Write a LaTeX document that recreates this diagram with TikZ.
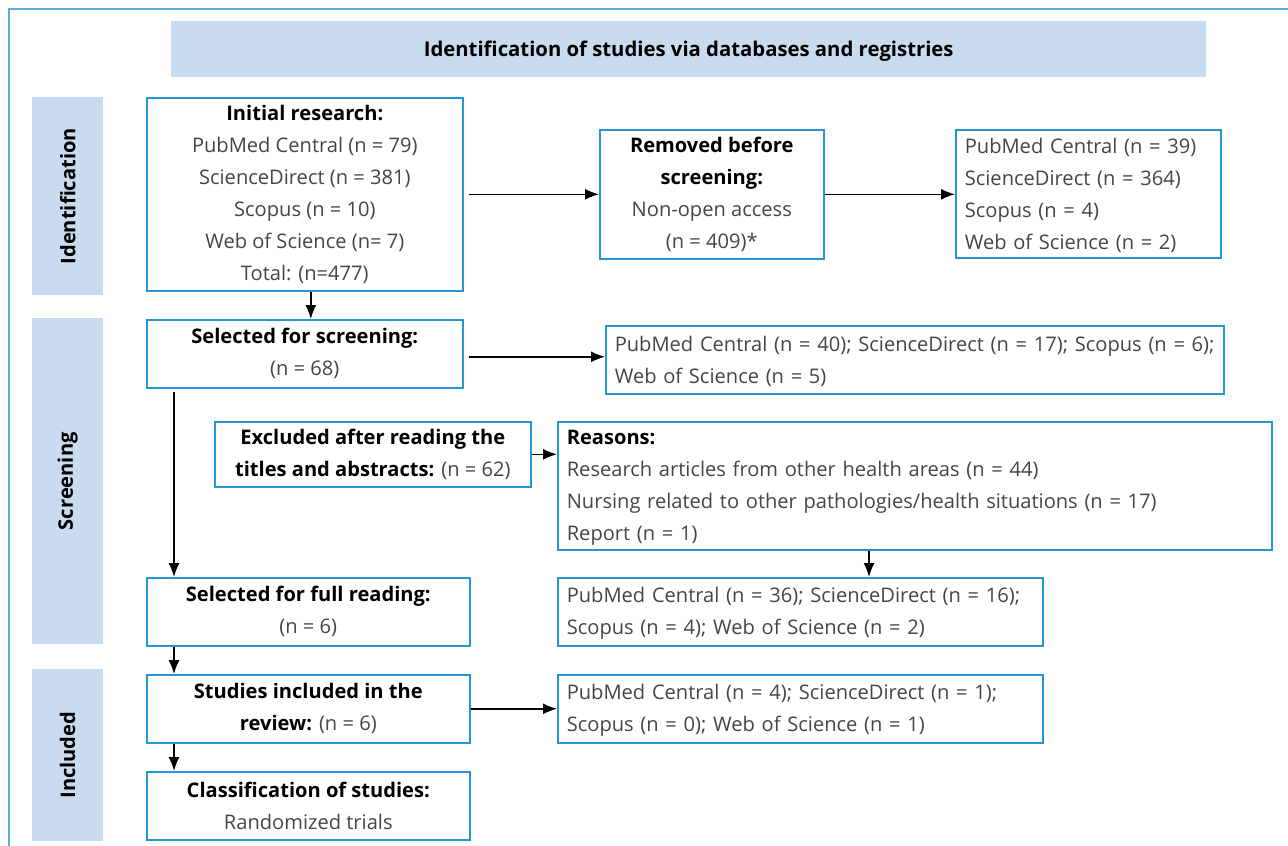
\documentclass[tikz,border=0pt]{standalone}
\usepackage{fontspec}
\setmainfont{Open Sans}
\usetikzlibrary{arrows.meta}
\definecolor{bxblue}{HTML}{2396D3}
\definecolor{barblue}{HTML}{C9DBEE}
\definecolor{frameblue}{HTML}{5AAEDD}
\definecolor{txtgray}{HTML}{454545}
\newcommand{\hb}[1]{\textbf{\color{black}#1}}
\tikzset{
  box/.style={draw=bxblue, line width=1.6pt, fill=white, inner sep=0pt, anchor=north west,
    align=center, text=txtgray, font=\fontsize{20.1}{32}\selectfont,
    execute at begin node={\rule{0pt}{19pt}}},
  lbox/.style={box, align=left, inner xsep=9pt},
  bar/.style={fill=barblue, draw=none, anchor=north west, inner sep=0pt},
  barlabel/.style={rotate=90, font=\fontsize{20.1}{24}\selectfont\bfseries, text=black},
  arr/.style={-{Latex[length=14pt,width=11pt]}, line width=1.5pt, black},
}
\begin{document}
\begin{tikzpicture}[x=1pt,y=-1pt]
\useasboundingbox (0,0) rectangle (1288,846);
\draw[frameblue, line width=1.4pt] (9,846) -- (9,9) -- (1288,9);
% header
\node[bar, minimum width=1035, minimum height=56, font=\fontsize{20.3}{24}\selectfont\bfseries, text=black] (hdr) at (171,21) {\rule{0pt}{19pt}Identification of studies via databases and registries};
% side bars
\node[bar, minimum width=71, minimum height=198] (barid) at (32,97) {};
\node[barlabel] (lblid) at (barid.center) {Identification};
\node[bar, minimum width=71, minimum height=326] (barscr) at (32,318) {};
\node[barlabel] (lblscr) at (barscr.center) {Screening};
\node[bar, minimum width=71, minimum height=172] (barinc) at (32,669) {};
\node[barlabel] (lblinc) at (barinc.center) {Included};
% boxes
\node[box, minimum width=316, minimum height=193, execute at begin node={\rule{0pt}{24pt}}] (init) at (146,97)
  {\hb{Initial research:}\\PubMed Central (n = 79)\\ScienceDirect (n = 381)\\Scopus (n = 10)\\Web of Science (n= 7)\\Total: (n=477)};
\node[box, minimum width=224, minimum height=129] (rem) at (599,129)
  {\hb{Removed before}\\\hb{screening:}\\Non-open access\\(n = 409)*};
\node[lbox, text width=247, minimum height=128, execute at begin node={\rule{0pt}{17pt}}] (remlist) at (955,129)
  {PubMed Central (n = 39)\\ScienceDirect (n = 364)\\Scopus (n = 4)\\Web of Science (n = 2)};
\node[box, minimum width=316, minimum height=68] (scr) at (146,319)
  {\hb{Selected for screening:}\\(n = 68)};
\node[lbox, text width=600, minimum height=68, execute at begin node={\rule{0pt}{16pt}}] (scrlist) at (605,325)
  {\mbox{PubMed Central (n = 40); ScienceDirect (n = 17); Scopus (n = 6);}\\Web of Science (n = 5)};
\node[box, minimum width=316, minimum height=65] (excl) at (214,421)
  {\hb{Excluded after reading the}\\\hb{titles and abstracts:} (n = 62)};
\node[lbox, text width=696, minimum height=128] (reasons) at (557,421)
  {\hb{Reasons:}\\Research articles from other health areas (n = 44)\\Nursing related to other pathologies/health situations (n = 17)\\Report (n = 1)};
\node[box, minimum width=323, minimum height=68] (full) at (146,577)
  {\hb{Selected for full reading:}\\(n = 6)};
\node[lbox, text width=467, minimum height=68] (fulllist) at (557,577)
  {PubMed Central (n = 36); ScienceDirect (n = 16);\\Scopus (n = 4); Web of Science (n = 2)};
\node[box, minimum width=323, minimum height=68] (incl) at (146,674)
  {\hb{Studies included in the}\\\hb{review:} (n = 6)};
\node[lbox, text width=467, minimum height=68] (incllist) at (557,674)
  {PubMed Central (n = 4); ScienceDirect (n = 1);\\Scopus (n = 0); Web of Science (n = 1)};
\node[box, minimum width=323, minimum height=68] (cls) at (146,771)
  {\hb{Classification of studies:}\\Randomized trials};
% connectors
\draw[arr] ([xshift=6]init.south) -- ([xshift=6]scr.north);
\draw[arr] ([xshift=5]init.east) -- (rem.west);
\draw[arr] (rem.east) -- (rem.east -| remlist.west);
\draw[arr] ([xshift=5,yshift=-3]scr.east) -- ([yshift=-3]scr.east -| scrlist.west);
\draw[arr] (excl.east) -- (excl.east -| reasons.west);
\draw[arr] ([xshift=28,yshift=-3]scr.south west) -- ([xshift=28]full.north west);
\draw[arr] ([xshift=312]reasons.south west) -- ([xshift=312]fulllist.north west);
\draw[arr] ([xshift=28]full.south west) -- ([xshift=28]incl.north west);
\draw[arr] (incl.east) -- (incllist.west);
\draw[arr] ([xshift=28]incl.south west) -- ([xshift=28]cls.north west);
\end{tikzpicture}
\end{document}
